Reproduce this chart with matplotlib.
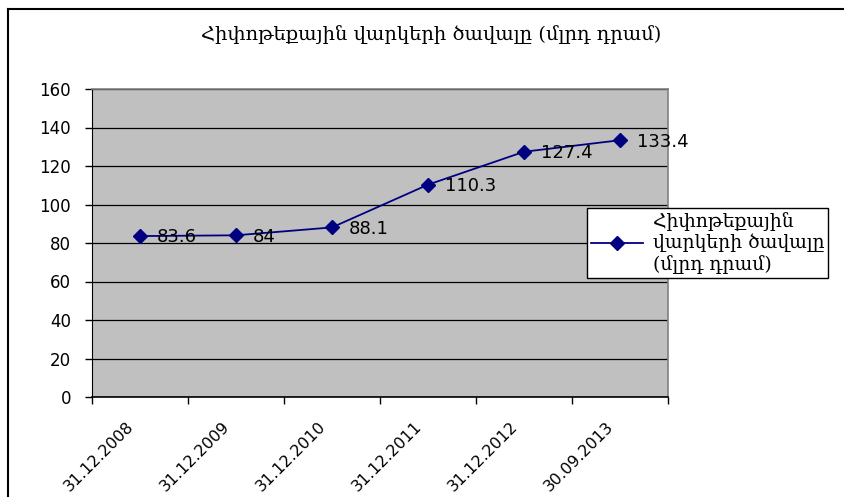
import matplotlib.pyplot as plt
import matplotlib.transforms as mtransforms
from matplotlib.lines import Line2D

dates = ['31.12.2008', '31.12.2009', '31.12.2010', '31.12.2011', '31.12.2012', '30.09.2013']
values = [83.6, 84, 88.1, 110.3, 127.4, 133.4]
value_labels = ['83.6', '84', '88.1', '110.3', '127.4', '133.4']
title = 'Հիփոթեքային վարկերի ծավալը (մլրդ դրամ)'
legend_label = 'Հիփոթեքային\nվարկերի ծավալը\n(մլրդ դրամ)'
yticks = [0, 20, 40, 60, 80, 100, 120, 140, 160]

serif = ['DejaVu Serif', 'DejaVu Sans']
sans = ['DejaVu Sans']

fig = plt.figure(figsize=(8.45, 4.97), dpi=100)
ax = fig.add_axes([92 / 845, 1 - 397 / 497, 576 / 845, 308 / 497])
ax.set_facecolor('#c0c0c0')

x = list(range(len(dates)))
line, = ax.plot(x, values, color='#000080', lw=1.3, marker='D', ms=7,
                markerfacecolor='#000080', markeredgecolor='#000080', zorder=3)
for xi, v, s in zip(x, values, value_labels):
    ax.annotate(s, (xi, v), xytext=(12, -1), textcoords='offset points',
                va='center', ha='left', fontsize=13, family=sans, zorder=4)

ax.set_xlim(-0.5, len(dates) - 0.5)
ax.set_ylim(0, 160)
ax.set_yticks(yticks)
ax.set_yticklabels([str(t) for t in yticks], fontsize=12, family=sans)
ax.yaxis.grid(True, color='black', lw=0.9)
ax.set_axisbelow(True)

# labels sit at category centres, tick marks at category boundaries
ax.set_xticks(x)
ax.set_xticklabels(dates, rotation=45, ha='right', rotation_mode='anchor',
                   fontsize=11.5, family=sans)
ax.tick_params(axis='x', which='major', length=0, pad=16)
shift = mtransforms.ScaledTranslation(-14 / 100, 0, fig.dpi_scale_trans)
for lab in ax.get_xticklabels():
    lab.set_transform(lab.get_transform() + shift)
ax.set_xticks([i - 0.5 for i in range(len(dates) + 1)], minor=True)
ax.tick_params(axis='x', which='minor', length=5, width=1, color='black', direction='out')
ax.tick_params(axis='y', length=5, width=1, color='black', direction='out', pad=10)

for side in ['top', 'right']:
    ax.spines[side].set_color('#808080')
    ax.spines[side].set_linewidth(1.2)
ax.spines['left'].set_color('black')
ax.spines['bottom'].set_color('black')
ax.spines['bottom'].set_linewidth(1.2)

fig.text(431 / 845, 1 - 35 / 497, title, ha='center', va='center',
         fontsize=14, family=serif)

leg = fig.legend([line], [legend_label], loc='upper left',
                 bbox_to_anchor=(587 / 845, 1 - 208 / 497), borderaxespad=0,
                 prop={'family': serif, 'size': 13.5}, fancybox=False,
                 framealpha=1, edgecolor='black', borderpad=0.2,
                 labelspacing=0.1, handlelength=2.8, handletextpad=0.5)
leg.get_frame().set_linewidth(1.0)

# chart-area border along the left and top edges
fig.add_artist(Line2D([8 / 845, 8 / 845], [0, 1 - 9 / 497], color='black', lw=1.5,
                      transform=fig.transFigure))
fig.add_artist(Line2D([8 / 845, 1], [1 - 9 / 497, 1 - 9 / 497], color='black', lw=1.5,
                      transform=fig.transFigure))

fig.savefig('out.png', dpi=100)
